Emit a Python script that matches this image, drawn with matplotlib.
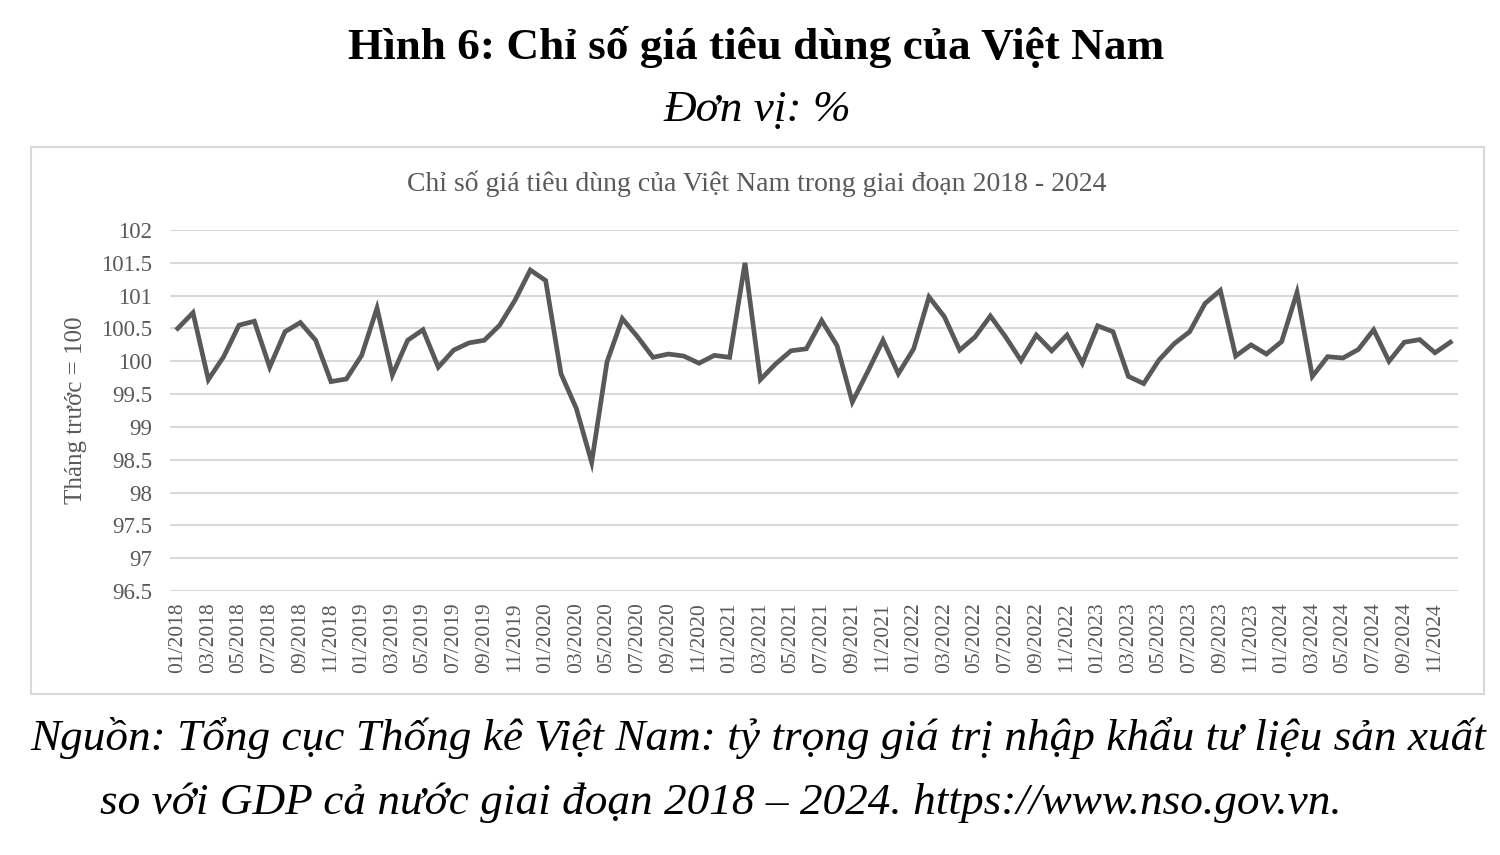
import matplotlib.pyplot as plt
from matplotlib.patches import Rectangle

# CPI so với tháng trước (tháng trước = 100), 01/2018 - 12/2024
cpi_2018 = [100.50, 100.74, 99.72, 100.07, 100.55, 100.61, 99.91, 100.45, 100.59, 100.32, 99.69, 99.73]
cpi_2019 = [100.09, 100.81, 99.79, 100.32, 100.48, 99.91, 100.17, 100.28, 100.32, 100.55, 100.93, 101.39]
cpi_2020 = [101.23, 99.81, 99.28, 98.46, 99.99, 100.65, 100.37, 100.06, 100.11, 100.08, 99.97, 100.09]
cpi_2021 = [100.06, 101.50, 99.72, 99.96, 100.16, 100.19, 100.62, 100.24, 99.38, 99.84, 100.32, 99.81]
cpi_2022 = [100.19, 100.98, 100.68, 100.17, 100.37, 100.69, 100.37, 100.01, 100.40, 100.16, 100.40, 99.97]
cpi_2023 = [100.54, 100.45, 99.77, 99.66, 100.02, 100.27, 100.45, 100.88, 101.08, 100.08, 100.25, 100.11]
cpi_2024 = [100.30, 101.05, 99.77, 100.07, 100.05, 100.18, 100.48, 100.00, 100.29, 100.33, 100.13, 100.29]

years = [2018, 2019, 2020, 2021, 2022, 2023, 2024]
months = ["%02d/%d" % (m, y) for y in years for m in range(1, 13)]
cpi = cpi_2018 + cpi_2019 + cpi_2020 + cpi_2021 + cpi_2022 + cpi_2023 + cpi_2024
y_ticks = [96.5, 97, 97.5, 98, 98.5, 99, 99.5, 100, 100.5, 101, 101.5, 102]

serif = ["Liberation Serif", "DejaVu Serif"]
gray = "#595959"

fig = plt.figure(figsize=(15, 8.55), dpi=100)
W, H = 1500, 855

# khung biểu đồ
fig.add_artist(Rectangle((31 / W, 1 - 694 / H), (1484 - 31) / W, (694 - 147) / H,
                         transform=fig.transFigure, fill=False, edgecolor="#d9d9d9", lw=1.5))

ax = fig.add_axes([170 / W, 1 - 591 / H, (1458 - 170) / W, (591 - 230) / H])
x = list(range(len(cpi)))
ax.plot(x, cpi, color=gray, lw=3.4, solid_joinstyle="miter")
ax.set_xlim(-0.5, len(cpi) - 0.5)
ax.set_ylim(96.5, 102)
ax.set_yticks(y_ticks)
ax.set_yticklabels(["%g" % v for v in y_ticks], family=serif, fontsize=16.5, color=gray)
ax.set_xticks(x[::2])
ax.set_xticklabels(months[::2], rotation=90, family=serif, fontsize=15.5, color=gray)
ax.tick_params(axis="both", length=0)
ax.tick_params(axis="y", pad=13)
ax.tick_params(axis="x", pad=8)
ax.grid(axis="y", color="#d9d9d9", lw=1.5)
ax.set_axisbelow(True)
for s in ax.spines.values():
    s.set_visible(False)
ax.set_ylabel("Tháng trước = 100", family=serif, fontsize=18, color=gray, labelpad=10)

fig.text(756 / W, 1 - 47 / H, "Hình 6: Chỉ số giá tiêu dùng của Việt Nam", family=serif,
         fontsize=32.6, fontweight="bold", ha="center", va="center")
fig.text(757 / W, 1 - 110 / H, "Đơn vị: %", family=serif, fontsize=32.6, style="italic",
         ha="center", va="center")
fig.text(757 / W, 1 - 184 / H, "Chỉ số giá tiêu dùng của Việt Nam trong giai đoạn 2018 - 2024",
         family=serif, fontsize=20, color=gray, ha="center", va="center")
fig.text(30 / W, 1 - 738 / H,
         "Nguồn: Tổng cục Thống kê Việt Nam: tỷ trọng giá trị nhập khẩu tư liệu sản xuất",
         family=serif, fontsize=32.6, style="italic", ha="left", va="center")
fig.text(100 / W, 1 - 803 / H,
         "so với GDP cả nước giai đoạn 2018 – 2024. https://www.nso.gov.vn.",
         family=serif, fontsize=32.6, style="italic", ha="left", va="center")

fig.savefig("out.png", dpi=100)
